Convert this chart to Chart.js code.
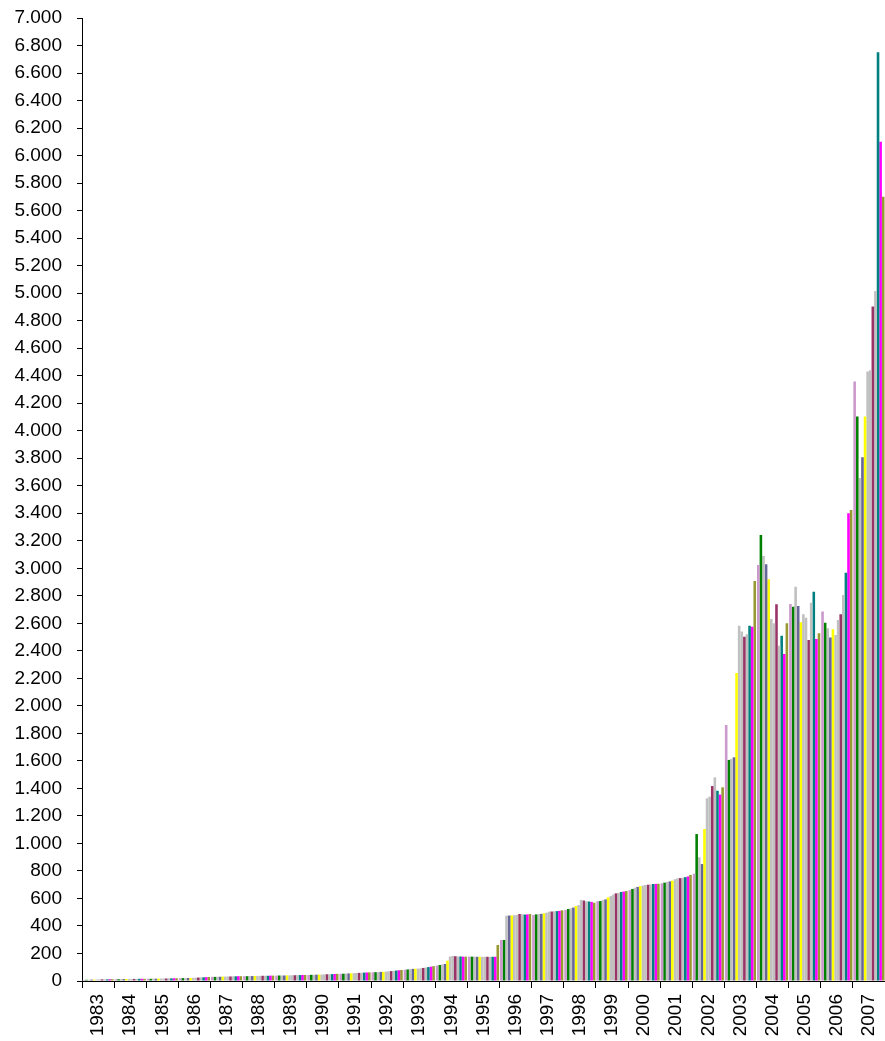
<!DOCTYPE html>
<html>
<head>
<meta charset="utf-8">
<script src="https://cdn.jsdelivr.net/npm/chart.js@4/dist/chart.umd.min.js"></script>
<style>
html,body{margin:0;padding:0;background:#fff;}
#wrap{width:885px;height:1041px;position:relative;}
</style>
</head>
<body>
<div id="wrap"><canvas id="c" width="885" height="1041"></canvas></div>
<script>
const years = ['1983','1984','1985','1986','1987','1988','1989','1990','1991','1992','1993','1994','1995','1996','1997','1998','1999','2000','2001','2002','2003','2004','2005','2006','2007'];
const yTicks = [0,200,400,600,800,1000,1200,1400,1600,1800,2000,2200,2400,2600,2800,3000,3200,3400,3600,3800,4000,4200,4400,4600,4800,5000,5200,5400,5600,5800,6000,6200,6400,6600,6800,7000];

// one array per period within the year (12 per year), values per year
const m01 = [8,13,16,20,30,35,39,44,52,63,82,112,177,298,480,516,580,661,710,780,1861,3024,2740,2685,4357];
const m02 = [9,13,16,21,30,35,40,45,53,64,84,116,177,298,484,523,581,669,715,1068,1607,3242,2721,2605,4103];
const m03 = [9,14,17,21,31,36,40,45,54,65,86,120,177,475,487,528,588,678,720,899,1615,3090,2866,2564,3656];
const m04 = [10,14,17,22,31,36,40,46,55,66,88,124,176,476,488,534,593,684,724,850,1626,3029,2726,2496,3807];
const m05 = [10,14,17,22,32,37,41,47,56,67,89,148,176,477,492,545,608,690,729,1105,2239,2920,2608,2557,4103];
const m06 = [11,15,18,23,32,37,41,47,57,68,90,178,176,478,496,552,617,693,740,1328,2583,2632,2666,2515,4430];
const m07 = [11,15,18,24,33,37,42,48,58,70,92,182,176,480,504,589,628,698,746,1340,2540,2600,2640,2624,4440];
const m08 = [12,15,18,25,33,38,42,49,59,72,95,180,176,487,505,585,637,700,748,1417,2503,2738,2479,2666,4902];
const m09 = [12,15,19,26,34,38,43,49,60,74,98,178,176,485,507,579,640,702,751,1480,2520,2437,2750,2806,5016];
const m10 = [12,16,19,27,34,38,43,50,61,76,101,178,176,483,508,578,647,705,755,1383,2583,2510,2830,2968,6751];
const m11 = [13,16,20,28,35,39,44,51,62,78,104,177,176,484,510,575,650,706,760,1355,2575,2377,2486,3400,6101];
const m12 = [13,16,20,29,35,39,44,52,63,80,108,177,262,487,514,569,654,707,771,1408,2908,2600,2527,3424,5701];

const seriesColors = ['#CC99CC','#008000','#C0C0C0','#666699','#FFFF00','#C0C0C0','#C0C0C0','#993366','#C0C0C0','#008080','#FF00FF','#999933'];
const seriesData = [m01,m02,m03,m04,m05,m06,m07,m08,m09,m10,m11,m12];

const fmt = v => String(v).replace(/\B(?=(\d{3})+(?!\d))/g, '.');

new Chart(document.getElementById('c'), {
  type: 'bar',
  data: {
    labels: years,
    datasets: seriesData.map((d, i) => ({
      label: 'S' + (i + 1),
      data: d,
      backgroundColor: seriesColors[i],
      borderWidth: 0,
      barPercentage: 1.0,
      categoryPercentage: 0.97
    }))
  },
  options: {
    responsive: false,
    animation: false,
    layout: { padding: { top: 18, right: 0, left: 0, bottom: 0 } },
    plugins: { legend: { display: false }, tooltip: { enabled: false } },
    scales: {
      x: {
        offset: true,
        grid: { display: true, offset: true, drawOnChartArea: false, drawTicks: true, tickLength: 7, color: '#000' },
        border: { display: true, color: '#000', width: 1 },
        ticks: {
          color: '#000', font: { family: 'Liberation Sans, Arial', size: 19 },
          maxRotation: 90, minRotation: 90, autoSkip: false, padding: 6
        },
        afterFit: s => { s.height = 60; s.paddingLeft = 0; s.paddingRight = 0; }
      },
      y: {
        min: 0, max: 7000,
        afterBuildTicks: s => { s.ticks = yTicks.map(v => ({ value: v })); },
        grid: { display: true, drawOnChartArea: false, drawTicks: true, tickLength: 5, color: '#000' },
        border: { display: true, color: '#000', width: 1 },
        ticks: {
          color: '#000', font: { family: 'Liberation Sans, Arial', size: 19 },
          padding: 15, callback: v => fmt(v)
        },
        afterFit: s => { s.width = 82; s.paddingTop = 0; s.paddingBottom = 0; }
      }
    }
  }
});
</script>
</body>
</html>
